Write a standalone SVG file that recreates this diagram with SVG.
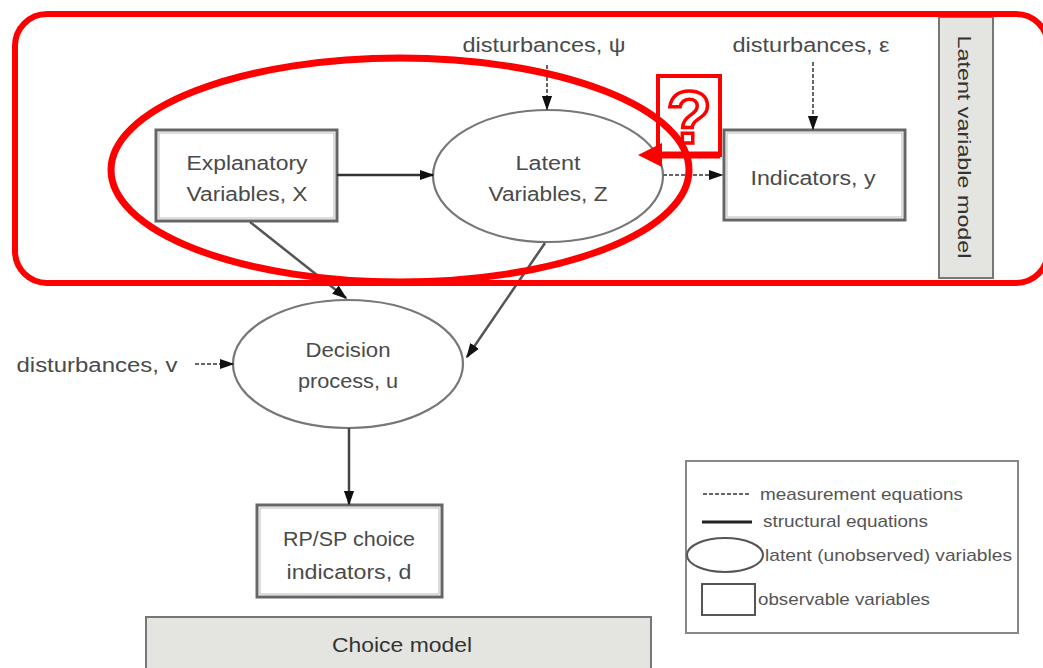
<svg xmlns="http://www.w3.org/2000/svg" width="1043" height="668" viewBox="0 0 1043 668">
<defs>
<style>
.t{font-family:"Liberation Sans",Arial,sans-serif;fill:#4a4a4a;font-size:20px;text-anchor:middle}
.lt{font-family:"Liberation Sans",Arial,sans-serif;fill:#555;font-size:17px}
.box{fill:#fff;stroke:#666;stroke-width:3}
.inner{fill:none;stroke:#bbb;stroke-width:1}
.ell{fill:#fff;stroke:#777;stroke-width:2.2}
.sol{stroke:#333;stroke-width:2.5;fill:none}
.dash{stroke:#666;stroke-width:2;stroke-dasharray:4 2;fill:none}
.gray{fill:#e4e4e0;stroke:#777;stroke-width:2}
</style>
<marker id="ah" viewBox="0 0 10 10" refX="9" refY="5" markerWidth="15" markerHeight="15" orient="auto" markerUnits="userSpaceOnUse">
<path d="M0,1.5 L10,5 L0,8.5 z" fill="#111"/>
</marker>
</defs>

<g id="latent-model-label">
<rect class="gray" x="939" y="17" width="54" height="261"/>
<text class="t" x="0" y="0" transform="translate(958,147) rotate(90)" style="font-size:19px;fill:#333" textLength="223" lengthAdjust="spacingAndGlyphs">Latent variable model</text>
</g>

<g id="explanatory">
<rect class="box" x="156" y="130" width="181" height="91"/>
<rect class="inner" x="159" y="133" width="175" height="85"/>
<text class="t" x="247" y="170" textLength="121" lengthAdjust="spacingAndGlyphs">Explanatory</text>
<text class="t" x="247" y="201" textLength="121" lengthAdjust="spacingAndGlyphs">Variables, X</text>
</g>

<g id="latent">
<ellipse class="ell" cx="548" cy="176" rx="115" ry="66"/>
<text class="t" x="548" y="170" textLength="65" lengthAdjust="spacingAndGlyphs">Latent</text>
<text class="t" x="548" y="201" textLength="119" lengthAdjust="spacingAndGlyphs">Variables, Z</text>
</g>

<g id="indicators">
<rect class="box" x="724" y="130" width="181" height="90"/>
<rect class="inner" x="727" y="133" width="175" height="84"/>
<text class="t" x="813" y="185" textLength="125" lengthAdjust="spacingAndGlyphs">Indicators, y</text>
</g>

<g id="dist-psi"><text class="t" x="544" y="52" textLength="163" lengthAdjust="spacingAndGlyphs">disturbances, ψ</text></g>
<g id="dist-eps"><text class="t" x="811" y="52" textLength="157" lengthAdjust="spacingAndGlyphs">disturbances, ε</text></g>
<g id="dist-v"><text class="t" x="97" y="372" textLength="161" lengthAdjust="spacingAndGlyphs">disturbances,  v</text></g>

<g id="decision">
<ellipse class="ell" cx="348" cy="364" rx="115" ry="64"/>
<text class="t" x="348" y="357" textLength="85" lengthAdjust="spacingAndGlyphs">Decision</text>
<text class="t" x="348" y="388" textLength="100" lengthAdjust="spacingAndGlyphs">process, u</text>
</g>

<g id="rpsp">
<rect class="box" x="257" y="505" width="185" height="92"/>
<rect class="inner" x="260" y="508" width="179" height="86"/>
<text class="t" x="349" y="546" textLength="132" lengthAdjust="spacingAndGlyphs">RP/SP choice</text>
<text class="t" x="349" y="579" textLength="125" lengthAdjust="spacingAndGlyphs">indicators, d</text>
</g>

<g id="choice-model">
<rect class="gray" x="146" y="617" width="505" height="60"/>
<text class="t" x="402" y="652" style="fill:#333" textLength="140" lengthAdjust="spacingAndGlyphs">Choice model</text>
</g>

<g id="connectors">
<line class="sol" x1="337" y1="175" x2="433" y2="175" marker-end="url(#ah)"/>
<line class="dash" x1="663" y1="175" x2="722" y2="175" marker-end="url(#ah)"/>
<line class="dash" x1="547" y1="65" x2="547" y2="109" marker-end="url(#ah)"/>
<line class="dash" x1="813" y1="62" x2="813" y2="129" marker-end="url(#ah)"/>
<line class="sol" x1="250" y1="222" x2="346" y2="298" marker-end="url(#ah)" style="stroke:#555"/>
<line class="sol" x1="545" y1="243" x2="467" y2="357" marker-end="url(#ah)" style="stroke:#555"/>
<line class="dash" x1="195" y1="364" x2="233" y2="364" marker-end="url(#ah)"/>
<line class="sol" x1="349" y1="428" x2="349" y2="504" marker-end="url(#ah)" style="stroke:#444"/>
</g>

<g id="legend">
<rect x="686" y="461" width="332" height="172" fill="#fff" stroke="#888" stroke-width="2"/>
<line class="dash" x1="703" y1="494" x2="750" y2="494"/>
<line x1="702" y1="522" x2="752" y2="522" stroke="#222" stroke-width="3"/>
<ellipse cx="725" cy="555" rx="38" ry="17" fill="#fff" stroke="#555" stroke-width="2"/>
<rect x="702" y="584" width="53" height="31" fill="#fff" stroke="#555" stroke-width="2"/>
<text class="lt" x="760" y="500" textLength="203" lengthAdjust="spacingAndGlyphs">measurement equations</text>
<text class="lt" x="763" y="527" textLength="165" lengthAdjust="spacingAndGlyphs">structural equations</text>
<text class="lt" x="765" y="561" textLength="247" lengthAdjust="spacingAndGlyphs">latent  (unobserved) variables</text>
<text class="lt" x="758" y="605" textLength="172" lengthAdjust="spacingAndGlyphs">observable variables</text>
</g>

<g id="highlight">
<rect x="15" y="14" width="1033" height="269" rx="32" ry="32" fill="none" stroke="#f00" stroke-width="6"/>
<ellipse cx="400" cy="170" rx="289" ry="112" fill="none" stroke="#f00" stroke-width="7"/>
<rect x="658" y="76" width="62" height="79" fill="none" stroke="#f00" stroke-width="4"/>
<text x="689" y="143" font-family="Liberation Sans,Arial,sans-serif" font-size="74" font-weight="bold" text-anchor="middle" fill="#fff" stroke="#f00" stroke-width="3.5">?</text>
<line x1="720" y1="155" x2="655" y2="155" stroke="#f00" stroke-width="7"/>
<path d="M638,155 L662,143 L662,167 z" fill="#f00"/>
</g>
</svg>
